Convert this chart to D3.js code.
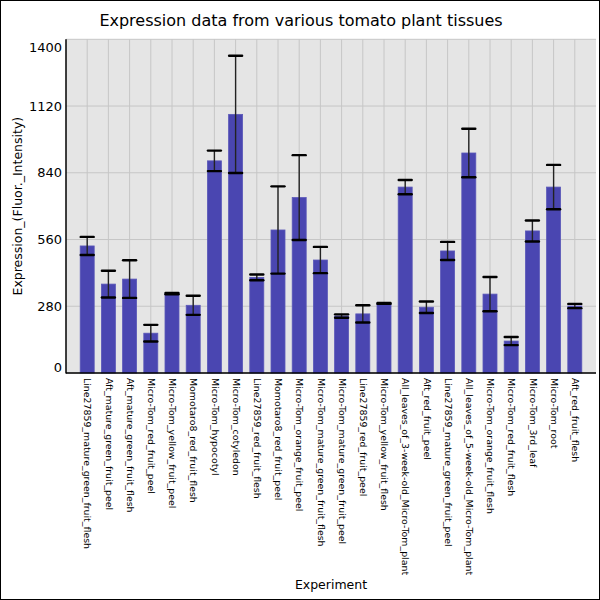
<!DOCTYPE html>
<html>
<head>
<meta charset="utf-8">
<script src="https://cdn.jsdelivr.net/npm/d3@7"></script>
<style>
  body { margin: 0; background: #fff; }
  text { font-family: "DejaVu Sans", sans-serif; }
</style>
</head>
<body>
<div id="chart"></div>
<script>
// tissues, left to right
var categories = [
  'Line27859_mature_green_fruit_flesh',
  'Aft_mature_green_fruit_peel',
  'Aft_mature_green_fruit_flesh',
  'Micro-Tom_red_fruit_peel',
  'Micro-Tom_yellow_fruit_peel',
  'Momotaro8_red_fruit_flesh',
  'Micro-Tom_hypocotyl',
  'Micro-Tom_cotyledon',
  'Line27859_red_fruit_flesh',
  'Momotaro8_red_fruit_peel',
  'Micro-Tom_orange_fruit_peel',
  'Micro-Tom_mature_green_fruit_flesh',
  'Micro-Tom_mature_green_fruit_peel',
  'Line27859_red_fruit_peel',
  'Micro-Tom_yellow_fruit_flesh',
  'All_leaves_of_3-week-old_Micro-Tom_plant',
  'Aft_red_fruit_peel',
  'Line27859_mature_green_fruit_peel',
  'All_leaves_of_5-week-old_Micro-Tom_plant',
  'Micro-Tom_orange_fruit_flesh',
  'Micro-Tom_red_fruit_flesh',
  'Micro-Tom_3rd_leaf',
  'Micro-Tom_root',
  'Aft_red_fruit_flesh'
]
var values = [533, 373, 394, 167, 333, 284, 890, 1085, 401, 600, 736, 474,
              239, 248, 292, 780, 276, 512, 923, 331, 134, 596, 780, 281]
var errors = [38, 56, 79, 35, 3, 40, 43, 246, 12, 183, 178, 55,
              7, 36, 2, 30, 24, 38, 102, 72, 17, 44, 93, 9]
var yTicks = [0, 280, 560, 840, 1120, 1400]

var title = 'Expression data from various tomato plant tissues'
var xTitle = 'Experiment'
var yTitle = 'Expression_(Fluor._Intensity)'

// plot box
var width = 600,
    height = 600,
    pLeft = 66, pRight = 596, pTop = 39.3, pBottom = 373

var data = categories.map(function(c, i) {
  return {key: c, pos: i + 1, value: values[i], err: errors[i]}
})

var svg = d3.select('#chart')
  .append('svg')
    .attr('width', width)
    .attr('height', height)

// outer frame
svg.append('rect')
  .attr('x', 0.5).attr('y', 0.5)
  .attr('width', width - 1).attr('height', height - 1)
  .attr('fill', '#fff')
  .attr('stroke', '#000')

var x = d3.scaleLinear()
  .domain([0, categories.length + 1])
  .range([pLeft, pRight])

var y = d3.scaleLinear()
  .domain([0, 1400])
  .range([pBottom, pTop])

// plot background
svg.append('rect')
  .attr('x', pLeft).attr('y', pTop)
  .attr('width', pRight - pLeft).attr('height', pBottom - pTop)
  .attr('fill', '#e5e5e5')

// grid
svg.append('g')
  .selectAll('line')
  .data(yTicks)
  .enter().append('line')
    .attr('x1', pLeft).attr('x2', pRight)
    .attr('y1', d => y(d)).attr('y2', d => y(d))
    .attr('stroke', '#c6c6c6')
svg.append('g')
  .selectAll('line')
  .data(data)
  .enter().append('line')
    .attr('x1', d => x(d.pos)).attr('x2', d => x(d.pos))
    .attr('y1', pTop).attr('y2', pBottom)
    .attr('stroke', '#c6c6c6')

var barW = 14

// bars
svg.append('g')
  .selectAll('rect')
  .data(data)
  .enter().append('rect')
    .attr('x', d => x(d.pos) - barW / 2)
    .attr('y', d => y(d.value))
    .attr('width', barW)
    .attr('height', d => y(0) - y(d.value))
    .attr('fill', '#4a46b1')
    .attr('stroke', '#5b58b8')
    .attr('stroke-width', 0.8)

// error bars
var eb = svg.append('g')
eb.selectAll('line.v')
  .data(data)
  .enter().append('line')
    .attr('class', 'v')
    .attr('x1', d => x(d.pos)).attr('x2', d => x(d.pos))
    .attr('y1', d => y(d.value - d.err)).attr('y2', d => y(d.value + d.err))
    .attr('stroke', '#222')
    .attr('stroke-width', 1.4)
;['lo', 'hi'].forEach(function(k) {
  eb.selectAll('line.' + k)
    .data(data)
    .enter().append('line')
      .attr('class', k)
      .attr('x1', d => x(d.pos) - 6.5).attr('x2', d => x(d.pos) + 6.5)
      .attr('y1', d => y(k == 'lo' ? d.value - d.err : d.value + d.err))
      .attr('y2', d => y(k == 'lo' ? d.value - d.err : d.value + d.err))
      .attr('stroke', '#000')
      .attr('stroke-width', 2.4)
      .attr('stroke-linecap', 'round')
})

// y axis
var yAxis = svg.append('g')
  .attr('transform', 'translate(' + pLeft + ',0)')
  .call(d3.axisLeft(y).tickValues(yTicks).tickSize(0).tickPadding(4)
        .tickFormat(d3.format('d')))
yAxis.select('.domain').remove()
yAxis.selectAll('text')
  .attr('font-size', 13)
  .attr('font-family', 'DejaVu Sans')
  .attr('fill', '#000')
  .attr('dy', d => d == 1400 ? '0.95em' : d == 0 ? '-0.1em' : '0.32em')

// x axis
var xAxis = svg.append('g')
  .attr('transform', 'translate(0,' + pBottom + ')')
  .call(d3.axisBottom(x).tickValues(data.map(d => d.pos)).tickSize(0)
        .tickFormat((d, i) => categories[i]))
xAxis.select('.domain').remove()
xAxis.selectAll('text')
  .attr('font-size', 9.4)
  .attr('font-family', 'DejaVu Sans')
  .attr('fill', '#000')
  .attr('text-anchor', 'start')
  .attr('transform', 'rotate(90)')
  .attr('x', 5)
  .attr('y', 0)
  .attr('dy', '0.36em')

// axis lines
svg.append('line')
  .attr('x1', pLeft).attr('x2', pLeft)
  .attr('y1', pTop).attr('y2', pBottom + 0.5)
  .attr('stroke', '#000').attr('stroke-width', 1.5)
svg.append('line')
  .attr('x1', pLeft).attr('x2', pRight)
  .attr('y1', pBottom).attr('y2', pBottom)
  .attr('stroke', '#000').attr('stroke-width', 1.5)

// titles
svg.append('text')
  .attr('x', 301).attr('y', 26)
  .attr('text-anchor', 'middle')
  .attr('font-size', 16)
  .text(title)
svg.append('text')
  .attr('x', (pLeft + pRight) / 2).attr('y', 589)
  .attr('text-anchor', 'middle')
  .attr('font-size', 12.5)
  .text(xTitle)
svg.append('text')
  .attr('transform', 'translate(22,' + (pTop + pBottom) / 2 + ') rotate(-90)')
  .attr('text-anchor', 'middle')
  .attr('font-size', 12.5)
  .text(yTitle)
</script>
</body>
</html>
